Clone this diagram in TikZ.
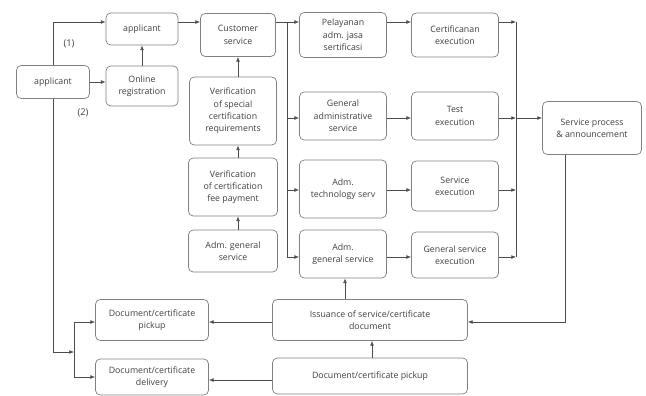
\documentclass[tikz,border=0pt]{standalone}
\usepackage{fontspec}
\setmainfont{Open Sans}
\usepackage{tikz}
\usetikzlibrary{arrows.meta,positioning,calc}

\begin{document}
\begin{tikzpicture}[x=0.03cm, y=-0.03cm,
    box/.style = {draw=black!50, line width=0.6pt, rounded corners=4pt, align=center,
                  inner sep=1pt, text=black!75,
                  font=\fontsize{7.5}{10.5}\selectfont},
    flow/.style = {draw=black!70, line width=0.55pt, -{Latex[length=4pt,width=3.2pt]}},
    line/.style = {draw=black!70, line width=0.55pt},
    ]
    \useasboundingbox (0,0) rectangle (646,396);
    % helper rows --------------------------------------------------------
    \coordinate (rowA) at (0,22);
    \coordinate (busL) at (287,0);
    \coordinate (busR) at (516,0);
    % Entry ---------------------------------------------------------------
    \node[box, minimum width=73*0.03cm, minimum height=33*0.03cm] (app1) at (53,82) {applicant};
    \node[box, minimum width=72*0.03cm, minimum height=32*0.03cm] (app2) at (142,29) {applicant};
    \node[box, minimum width=72*0.03cm, minimum height=40*0.03cm] (onl) at (142,86) {Online\\registration};
    % Column 1 ------------------------------------------------------------
    \node[box, minimum width=75*0.03cm, minimum height=43*0.03cm] (cs) at (238,35) {Customer\\service};
    \node[box, minimum width=87*0.03cm, minimum height=68*0.03cm] (vsc) at (233,111) {Verification\\of special\\certification\\requirements};
    \node[box, minimum width=89*0.03cm, minimum height=58*0.03cm] (vfp) at (233,187) {Verification\\of certification\\fee payment};
    \node[box, minimum width=89*0.03cm, minimum height=42*0.03cm] (agl) at (233,251) {Adm. general\\service};
    % Column 2 ------------------------------------------------------------
    \node[box, minimum width=87*0.03cm, minimum height=45*0.03cm] (pel) at (343,35) {Pelayanan\\adm. jasa\\sertificasi};
    \node[box, minimum width=87*0.03cm, minimum height=48*0.03cm] (gas) at (343,116) {General\\administrative\\service};
    \node[box, minimum width=87*0.03cm, minimum height=58*0.03cm] (ats) at (343,189) {Adm.\\technology serv};
    \node[box, minimum width=87*0.03cm, minimum height=48*0.03cm] (agr) at (343,254) {Adm.\\general service};
    % Column 3 ------------------------------------------------------------
    \node[box, minimum width=87*0.03cm, minimum height=44*0.03cm] (cer) at (455,35) {Certificanan\\execution};
    \node[box, minimum width=87*0.03cm, minimum height=48*0.03cm] (tex) at (455,116) {Test\\execution};
    \node[box, minimum width=87*0.03cm, minimum height=50*0.03cm] (sex) at (455,186) {Service\\execution};
    \node[box, minimum width=87*0.03cm, minimum height=46*0.03cm] (gse) at (455,255) {General service\\execution};
    \node[box, minimum width=99*0.03cm, minimum height=53*0.03cm] (spa) at (592,128) {Service process\\\& announcement};
    % Output --------------------------------------------------------------
    \node[box, minimum width=195*0.03cm, minimum height=41*0.03cm] (iss) at (370,320) {Issuance of service/certificate\\document};
    \node[box, minimum width=195*0.03cm, minimum height=36*0.03cm] (dpr) at (370,376) {Document/certificate pickup};
    \node[box, minimum width=113*0.03cm, minimum height=41*0.03cm] (dpl) at (152,320) {Document/certificate\\pickup};
    \node[box, minimum width=113*0.03cm, minimum height=36*0.03cm] (ddl) at (152,377) {Document/certificate\\delivery};
    \coordinate (split) at (74,352);
    % Labels
    \node[text=black!75, font=\fontsize{8}{9}\selectfont] (l1) at (69,44) {(1)};
    \node[text=black!75, font=\fontsize{8}{9}\selectfont] (l2) at (83,113) {(2)};
    % Connectors ----------------------------------------------------------
    \draw[flow] (app1.north) |- (app2.west |- rowA);
    \draw[flow] (app1.east) -- (app1.east -| onl.west);
    \draw[flow] (onl.north) -- (app2.south);
    \draw[flow] (app2.east |- rowA) -- (cs.west |- rowA);
    \draw[flow] (vsc.north -| cs.south) -- (cs.south);
    \draw[flow] (vfp.north -| cs.south) -- (vsc.south -| cs.south);
    \draw[flow] (agl.north -| cs.south) -- (vfp.south -| cs.south);
    % bus to column 2
    \draw[line] (cs.east |- rowA) -- (busL |- rowA) -- (busL |- 0,257);
    \draw[flow] (busL |- rowA) -- (pel.west |- rowA);
    \draw[flow] (busL |- 0,118) -- (gas.west |- 0,118);
    \draw[flow] (busL |- 0,190) -- (ats.west |- 0,190);
    \draw[flow] (busL |- 0,257) -- (agr.west |- 0,257);
    % column 2 to column 3
    \draw[flow] (pel.east |- rowA) -- (cer.west |- rowA);
    \draw[flow] (gas.east |- 0,118) -- (tex.west |- 0,118);
    \draw[flow] (ats.east |- 0,190) -- (sex.west |- 0,190);
    \draw[flow] (agr.east |- 0,257) -- (gse.west |- 0,257);
    % bus to service process
    \draw[line] (busR |- rowA) -- (busR |- 0,257);
    \draw[flow] (cer.east |- rowA) -- (busR |- rowA);
    \draw[flow] (tex.east |- 0,118) -- (busR |- 0,118);
    \draw[flow] (sex.east |- 0,190) -- (busR |- 0,190);
    \draw[flow] (gse.east |- 0,257) -- (busR |- 0,257);
    \draw[flow] (busR |- 0,118) -- (spa.west |- 0,118);
    % output
    \draw[flow] (spa.south -| 565,0) |- (iss.east |- 0,322);
    \draw[flow] (iss.north -| 345,0) -- (agr.south -| 345,0);
    \draw[flow] (dpr.north -| 372,0) -- (iss.south -| 372,0);
    \draw[flow] (iss.west |- 0,322) -- (dpl.east |- 0,322);
    \draw[flow] (dpr.west |- 0,380) -- (ddl.east |- 0,380);
    \draw[flow] (app1.south) |- (split);
    \draw[flow] (split) |- (dpl.west |- 0,322);
    \draw[flow] (split) |- (ddl.west |- 0,377);
\end{tikzpicture}
\end{document}
